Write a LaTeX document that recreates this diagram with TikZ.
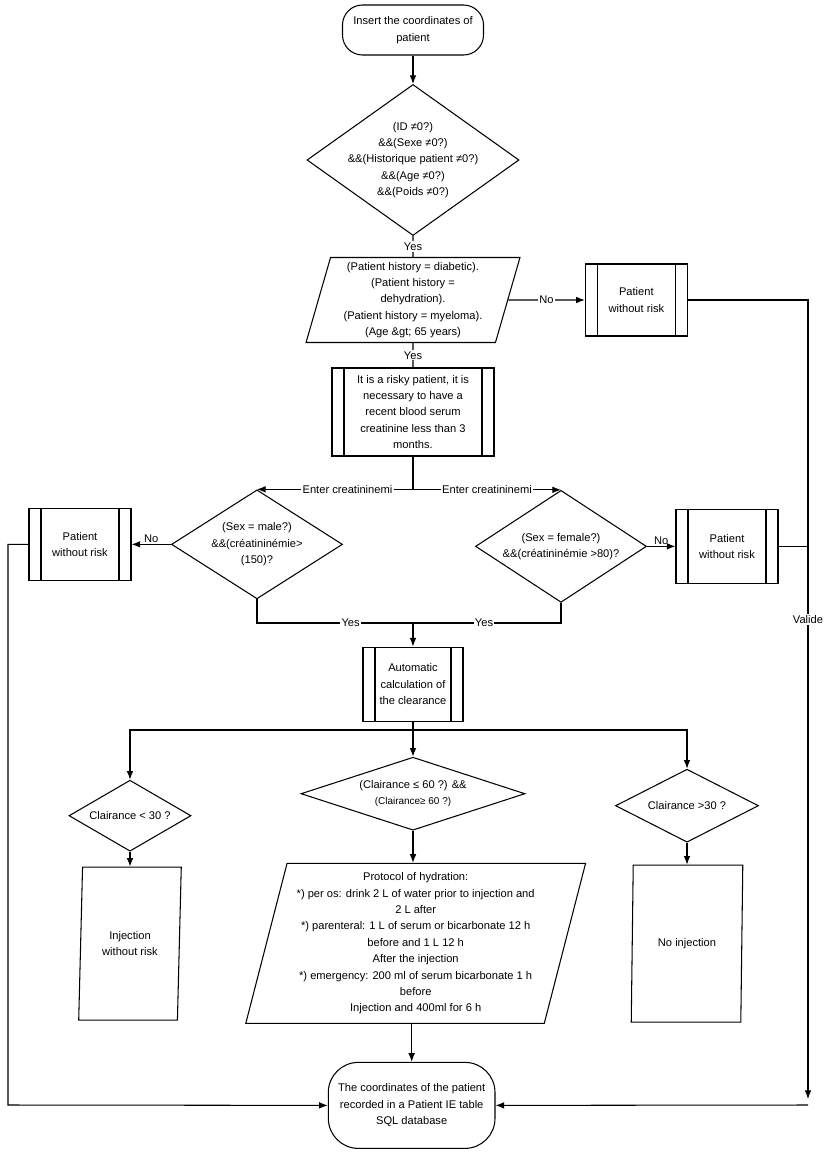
\documentclass[tikz,border=0pt]{standalone}
\usepackage{fontspec}
\setmainfont{Liberation Sans}
\usetikzlibrary{shapes.geometric,arrows.meta}

\tikzset{
    every node/.style={font=\fontsize{9.5}{14}\selectfont},
    terminal/.style={draw, rectangle, align=center, inner sep=2pt},
    decision/.style 2 args={draw, diamond, inner sep=0pt, minimum width=#1, minimum height=#2},
    txt/.style={align=center, inner sep=0pt},
    subproc/.style 2 args={draw, rectangle, align=center, inner sep=2pt, minimum width=#1, minimum height=#2,
        path picture={
            \draw ([xshift=0.36cm]path picture bounding box.north west) -- ([xshift=0.36cm]path picture bounding box.south west);
            \draw ([xshift=-0.36cm]path picture bounding box.north east) -- ([xshift=-0.36cm]path picture bounding box.south east);
        }},
    io/.style={draw, trapezium, trapezium stretches=true, align=center, inner sep=1pt},
    lbl/.style={fill=white, inner sep=1pt}
}

\begin{document}
\begin{tikzpicture}[x=0.03cm, y=-0.03cm, line width=0.9pt, >={Latex[length=2.6mm,width=2mm]}]
        \useasboundingbox (0,0) rectangle (827,1152);
        \node[terminal, minimum width=4.23cm, minimum height=1.5cm, rounded corners=0.6cm] (start) at (413,30) {Insert the coordinates of\\patient};
        \node[decision={6.36cm}{4.53cm}, below of=start, yshift=-2.9cm] (check) {};
        \node[txt] (checktxt) at (check) {(ID ≠0?)\\\&\&(Sexe ≠0?)\\\&\&(Historique patient ≠0?)\\\&\&(Age ≠0?)\\\&\&(Poids ≠0?)};
        \node[io, minimum width=6.42cm, minimum height=2.55cm, trapezium left angle=75, trapezium right angle=105, below of=check, yshift=-3.2cm] (history) {(Patient history = diabetic).\\(Patient history =\\dehydration).\\(Patient history = myeloma).\\(Age \&gt; 65 years)};
        \node[subproc={3.06cm}{2.16cm}, right of=history, xshift=5.7cm] (safe1) {Patient\\without risk};
        \node[subproc={4.86cm}{2.64cm}, below of=history, yshift=-2.36cm] (risky) {It is a risky patient, it is\\necessary to have a\\recent blood serum\\creatinine less than 3\\months.};
        \node[decision={5.13cm}{3.27cm}, below of=risky, xshift=-4.68cm, yshift=-2.97cm] (male) {};
        \node[txt] (maletxt) at (male) {(Sex = male?)\\\&\&(créatininémie>\\(150)?};
        \node[decision={5.13cm}{3.36cm}, below of=risky, xshift=4.44cm, yshift=-3.03cm] (female) {};
        \node[txt] (femaletxt) at (female) {(Sex = female?)\\\&\&(créatininémie >80)?};
        \node[subproc={3.06cm}{2.16cm}, left of=male, xshift=-4.31cm] (safe2) {Patient\\without risk};
        \node[subproc={3.06cm}{2.22cm}, right of=female, xshift=3.98cm] (safe3) {Patient\\without risk};
        \node[subproc={3.0cm}{2.22cm}, below of=risky, yshift=-7.16cm] (calc) {Automatic\\calculation of\\the clearance};
        \node[decision={6.72cm}{2.19cm}, below of=calc, yshift=-2.29cm] (midcl) {};
        \node[txt] (midcltxt) at (midcl) {(Clairance ≤ 60 ?) \&\&\\{\fontsize{8.5}{14}\selectfont(Clairance≥ 60 ?)}};
        \node[decision={3.66cm}{2.13cm}, left of=midcl, xshift=-7.49cm, yshift=-0.66cm] (lowcl) {};
        \node[txt] (lowcltxt) at (lowcl) {Clairance < 30 ?};
        \node[decision={4.29cm}{2.19cm}, right of=midcl, xshift=7.22cm, yshift=-0.36cm] (highcl) {};
        \node[txt] (highcltxt) at (highcl) {Clairance >30 ?};
        \node[io, minimum width=3.09cm, minimum height=4.59cm, trapezium left angle=85, trapezium right angle=95, below of=lowcl, yshift=-2.84cm] (inj) {Injection\\without risk};
        \node[io, minimum width=10.23cm, minimum height=4.8cm, trapezium left angle=75, trapezium right angle=105, below of=midcl, xshift=0.08cm, yshift=-3.49cm] (proto) {Protocol of hydration:\\*) per os: drink 2 L of water prior to injection and\\2 L after\\*) parenteral: 1 L of serum or bicarbonate 12 h\\before and 1 L 12 h\\After the injection\\*) emergency: 200 ml of serum bicarbonate 1 h\\before\\Injection and 400ml for 6 h};
        \node[io, minimum width=3.36cm, minimum height=4.71cm, trapezium left angle=85, trapezium right angle=95, below of=highcl, yshift=-3.14cm] (noinj) {No injection};
        \node[terminal, minimum width=5.0cm, minimum height=2.58cm, rounded corners=0.9cm, below of=proto, xshift=-0.12cm, yshift=-3.86cm] (end) {The coordinates of the patient\\recorded in a Patient IE table\\SQL database};
        \coordinate (yesjoin) at (413,623);
        \coordinate (split) at (413,730);
        \coordinate (railR) at (808,1099);
        \coordinate (railRb) at (808,1105);
        \coordinate (railL) at (8,1105);
        \draw[->] (start) -- (check);
        \draw (check) -- (history) node[lbl, midway] {Yes};
        \draw[->] (history) -- (safe1) node[lbl, midway] {No};
        \draw (history) -- (risky) node[lbl, midway] {Yes};
        \draw[->] (risky.south) |- (male.north) node[lbl, pos=0.71] {Enter creatininemi};
        \draw[->] (risky.south) |- (female.north) node[lbl, pos=0.75] {Enter creatininemi};
        \draw[->] (male.west) -- (safe2.east) node[midway, above, inner sep=1pt] {No};
        \draw[->] (female.east) -- (safe3.west) node[midway, above, inner sep=1pt] {No};
        \draw (male.south) |- (yesjoin) node[lbl, pos=0.8] {Yes};
        \draw (female.south) |- (yesjoin) node[lbl, pos=0.76] {Yes};
        \draw[->] (yesjoin) -- (calc);
        \draw (calc) -- (split);
        \draw[->] (split) -| (lowcl.north);
        \draw[->] (split) -- (midcl.north);
        \draw[->] (split) -| (highcl.north);
        \draw[->] (lowcl.south) -- (lowcl.south |- inj.north);
        \draw[->] (midcl.south) -- (midcl.south |- proto.north);
        \draw[->] (highcl.south) -- (highcl.south |- noinj.north);
        \draw[->] (proto.south -| end.north) -- (end.north);
        \draw[->] (safe1.east) -| (railR) node[lbl, pos=0.7] {Valide};
        \draw (safe3.east) -- (safe3.east -| railR);
        \draw[->] (railRb) -- (end.east);
        \draw[->] (safe2.west) -| (railL) -- (end.west);
    \end{tikzpicture}
\end{document}
